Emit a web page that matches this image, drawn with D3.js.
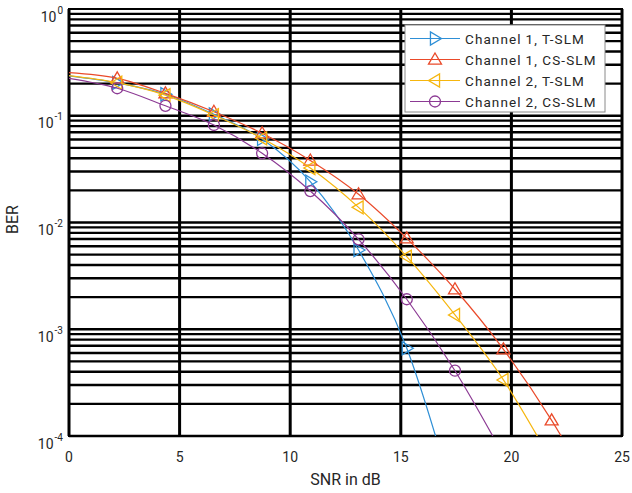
<!DOCTYPE html>
<html>
<head>
<meta charset="utf-8">
<script src="https://cdn.jsdelivr.net/npm/d3@7"></script>
<style>
  body { margin: 0; background: #fff; }
  text { font-family: Roboto, "DejaVu Sans", sans-serif; }
</style>
</head>
<body>
<script>
const w = 632,
	h = 493;

// SNR values (dB) at which BER was sampled
const snr = [0, 2.18, 4.36, 6.55, 8.73, 10.91, 13.09, 15.27, 17.45, 19.64, 21.82, 24];

// BER per series
const ch1TSLM = [0.236, 0.203, 0.159, 0.103, 0.0606, 0.0241, 0.00552, 0.000663, 0.000024];
const ch1CSSLM = [0.253, 0.224, 0.162, 0.109, 0.0685, 0.0381, 0.0184, 0.00711, 0.00237, 0.000648, 0.00014, 0.000023];
const ch2TSLM = [0.238, 0.204, 0.156, 0.1016, 0.0615, 0.0324, 0.01387, 0.00478, 0.00136, 0.000335, 0.000058];
const ch2CSSLM = [0.224, 0.181, 0.124, 0.0819, 0.0445, 0.0197, 0.00696, 0.00191, 0.000409, 0.000066];

const seriesNames = ['Channel 1, T-SLM', 'Channel 1, CS-SLM', 'Channel 2, T-SLM', 'Channel 2, CS-SLM'];
const seriesValues = [ch1TSLM, ch1CSSLM, ch2TSLM, ch2CSSLM];
const seriesColors = ['#2e8fd6', '#ea4a2a', '#f6b60e', '#8c3a94'];
const seriesMarkers = ['right', 'up', 'left', 'circle'];

const xTicks = [0, 5, 10, 15, 20, 25];
const yTickExps = [0, -1, -2, -3, -4];

const m = {left: 69, top: 9, right: 10, bottom: 57};
const iw = w - m.left - m.right,
	ih = h - m.top - m.bottom;

const svg = d3.select('body')
	.append('svg')
	.attr('width', w)
	.attr('height', h);

const x = d3.scaleLinear().domain([0, 25]).range([0, iw]);
const y = d3.scaleLog().domain([1e-4, 1]).range([ih, 0]);

const g = svg.append('g').attr('transform', `translate(${m.left},${m.top})`);

svg.append('defs').append('clipPath').attr('id', 'clip')
	.append('rect').attr('width', iw).attr('height', ih);

//horizontal grid (major + minor) - drawn heavy like the source
const yGrid = [];
for (let e = -4; e < 0; e++) {
	for (let k = 1; k <= 9; k++) yGrid.push(k * Math.pow(10, e));
}
g.append('g')
	.selectAll('line')
	.data(yGrid)
	.enter()
	.append('line')
	.attr('x1', 0)
	.attr('x2', iw)
	.attr('y1', (d) => y(d))
	.attr('y2', (d) => y(d))
	.attr('stroke', '#000')
	.attr('stroke-width', 2.4);

//vertical grid
g.append('g')
	.selectAll('line')
	.data(xTicks)
	.enter()
	.append('line')
	.attr('x1', (d) => x(d))
	.attr('x2', (d) => x(d))
	.attr('y1', 0)
	.attr('y2', ih)
	.attr('stroke', '#000')
	.attr('stroke-width', 3);

g.append('rect')
	.attr('width', iw)
	.attr('height', ih)
	.attr('fill', 'none')
	.attr('stroke', '#000')
	.attr('stroke-width', 2);

//tick labels
g.append('g')
	.selectAll('text')
	.data(xTicks)
	.enter()
	.append('text')
	.attr('x', (d) => x(d))
	.attr('y', ih + 26)
	.attr('text-anchor', 'middle')
	.attr('font-size', 14)
	.attr('fill', '#262626')
	.text((d) => d);

const yl = g.append('g')
	.selectAll('text')
	.data(yTickExps)
	.enter()
	.append('text')
	.attr('x', -6)
	.attr('y', (d) => y(Math.pow(10, d)) + 12.5)
	.attr('text-anchor', 'end')
	.attr('font-size', 14)
	.attr('fill', '#262626');
yl.append('tspan').text('10');
yl.append('tspan')
	.attr('dy', -8)
	.attr('dx', 1)
	.attr('font-size', 10)
	.text((d) => d === 0 ? '0' : '-' + Math.abs(d));

svg.append('text')
	.attr('x', m.left + iw / 2)
	.attr('y', 485)
	.attr('text-anchor', 'middle')
	.attr('font-size', 16)
	.attr('fill', '#262626')
	.text('SNR in dB');

svg.append('text')
	.attr('transform', `translate(18,${m.top + ih / 2 - 3}) rotate(-90)`)
	.attr('text-anchor', 'middle')
	.attr('font-size', 16)
	.attr('fill', '#262626')
	.text('BER');

//marker drawing
function marker(sel, type, color) {
	const s = 6.5;
	if (type === 'circle') {
		sel.append('circle').attr('r', 5.5);
	} else {
		let pts;
		if (type === 'up') pts = [[0, -s], [s, s * 0.7], [-s, s * 0.7]];
		if (type === 'right') pts = [[s, 0], [-s * 0.7, -s], [-s * 0.7, s]];
		if (type === 'left') pts = [[-s, 0], [s * 0.7, -s], [s * 0.7, s]];
		sel.append('polygon').attr('points', pts.map((p) => p.join(',')).join(' '));
	}
	sel.selectAll('circle, polygon')
		.attr('fill', 'none')
		.attr('stroke', color)
		.attr('stroke-width', 1.3);
}

const plot = g.append('g').attr('clip-path', 'url(#clip)');
const line = d3.line()
	.x((d) => x(d[0]))
	.y((d) => y(d[1]))
	.curve(d3.curveMonotoneX);

seriesValues.forEach((vals, i) => {
	const pts = vals.map((v, j) => [snr[j], v]);
	plot.append('path')
		.datum(pts)
		.attr('d', line)
		.attr('fill', 'none')
		.attr('stroke', seriesColors[i])
		.attr('stroke-width', 1.2);
	pts.slice(1).forEach((p) => {
		const mk = plot.append('g').attr('transform', `translate(${x(p[0])},${y(p[1])})`);
		marker(mk, seriesMarkers[i], seriesColors[i]);
	});
});

//legend
const lg = svg.append('g').attr('transform', 'translate(405,25)');
lg.append('rect')
	.attr('width', 200)
	.attr('height', 87)
	.attr('fill', '#fff')
	.attr('stroke', '#8a8a8a')
	.attr('stroke-width', 1);
seriesNames.forEach((name, i) => {
	const ry = 13.5 + i * 21;
	lg.append('line')
		.attr('x1', 5)
		.attr('x2', 55)
		.attr('y1', ry)
		.attr('y2', ry)
		.attr('stroke', seriesColors[i])
		.attr('stroke-width', 1.2);
	const mk = lg.append('g').attr('transform', `translate(30,${ry})`);
	marker(mk, seriesMarkers[i], seriesColors[i]);
	lg.append('text')
		.attr('x', 60)
		.attr('y', ry + 5)
		.attr('font-size', 13.5)
		.attr('letter-spacing', 1.1)
		.attr('fill', '#262626')
		.text(name.replace('Channel ', 'Channel\u2009'));
});
</script>
</body>
</html>
